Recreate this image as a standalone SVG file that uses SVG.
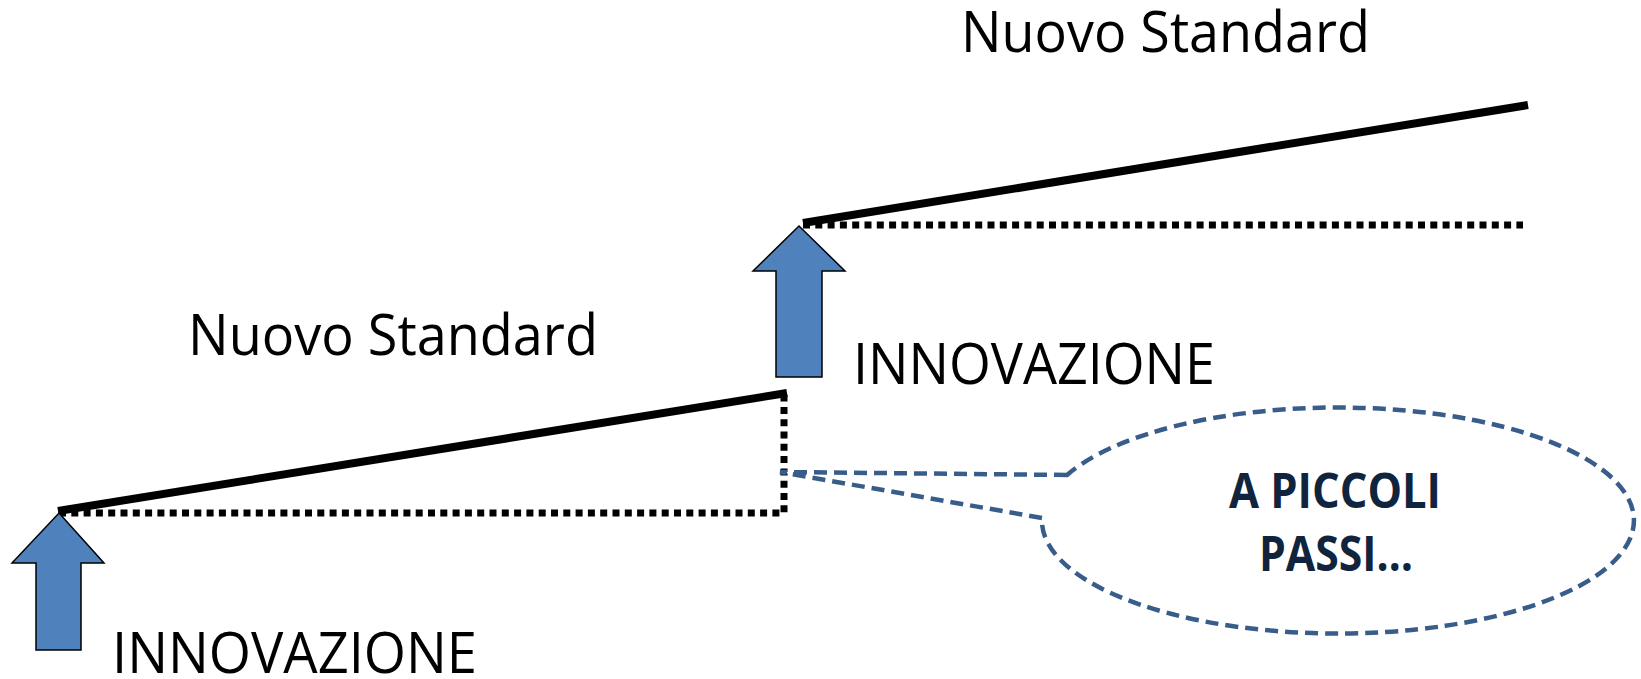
<svg xmlns="http://www.w3.org/2000/svg" width="1641" height="679" viewBox="0 0 1641 679">
<style>
.lbl{font-family:"Open Sans","Noto Sans","Liberation Sans",sans-serif;font-size:56px;fill:#000}
.call{font-family:"Open Sans","Noto Sans","Liberation Sans",sans-serif;font-size:48px;font-weight:bold;fill:#10243E}
.solid{fill:none;stroke:#000;stroke-width:8}
.dot{fill:none;stroke:#000;stroke-width:7;stroke-dasharray:7 5.3}
.arrow{fill:#4F81BD;stroke:#000;stroke-width:1.5;stroke-linejoin:miter}
.bubble{fill:#fff;stroke:#385D8A;stroke-width:4.5;stroke-dasharray:13 7}
</style>
<rect width="1641" height="679" fill="#fff"/>
<g id="connectors">
<path class="dot" d="M59 513 L784 513 L784 393"/>
<path class="solid" d="M58 511 L787 393"/>
<path class="dot" d="M803 225 L1523 225"/>
<path class="solid" d="M803 223 L1528 105"/>
</g>
<g id="arrow1">
<polygon class="arrow" points="59,513 104,563 81,563 81,650 36,650 36,563 12,563"/>
</g>
<g id="arrow2">
<polygon class="arrow" points="799,226 845,271 822,271 822,377 776,377 776,271 753,271"/>
</g>
<g id="label-innov1">
<text class="lbl" x="112" y="673" textLength="365" lengthAdjust="spacingAndGlyphs">INNOVAZIONE</text>
</g>
<g id="label-innov2">
<text class="lbl" x="853" y="384" textLength="362" lengthAdjust="spacingAndGlyphs">INNOVAZIONE</text>
</g>
<g id="label-std1">
<text class="lbl" x="188" y="355" textLength="410" lengthAdjust="spacingAndGlyphs">Nuovo Standard</text>
</g>
<g id="label-std2">
<text class="lbl" x="961" y="52" textLength="409" lengthAdjust="spacingAndGlyphs">Nuovo Standard</text>
</g>
<g id="callout">
<path class="bubble" d="M1067 475 L780 472 L1042 518 A296 113 0 1 0 1067 475 Z"/>
<text class="call" x="1335" y="508" text-anchor="middle" textLength="212" lengthAdjust="spacingAndGlyphs">A PICCOLI</text>
<text class="call" x="1336" y="571" text-anchor="middle" textLength="154" lengthAdjust="spacingAndGlyphs">PASSI…</text>
</g>
</svg>
